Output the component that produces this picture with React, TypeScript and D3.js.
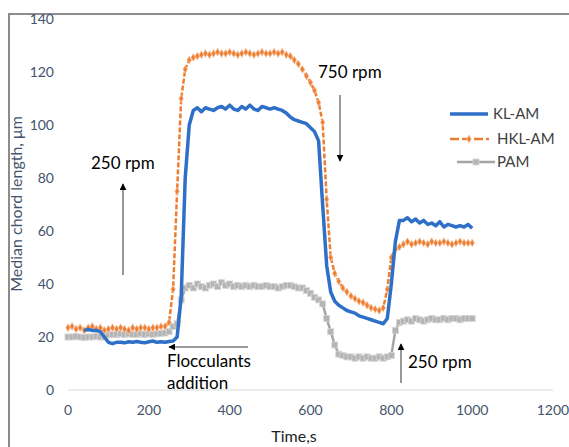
import React from "react";
import * as d3 from "d3";

const W = 569;
const H = 447;

const yTicks = [0, 20, 40, 60, 80, 100, 120, 140];
const xTicks = [0, 200, 400, 600, 800, 1000, 1200];

const hklTimes = d3.range(0, 1001, 10);
const hklValues = [
  23.5, 24, 23, 23.5, 22.5, 23.5, 24, 23, 23.5, 22.5, 23, 23.5, 23, 23.5, 23, 22.5, 23.5, 23, 23.5, 23.5, 23, 23.5, 23.5, 24, 24,
  25.5, 38, 75, 110, 121, 124.5, 125.5, 126,
  126.5, 127, 126.5, 127, 127.5, 127, 127, 127.5, 127, 126.5, 127, 127.5, 127, 126.5, 127, 127.5, 127, 127, 127.5, 127, 127.5,
  126.5, 126, 124.5, 123, 121, 118.5, 116, 113, 108.5, 101, 72, 50, 44, 41, 38.5, 37, 35.5, 34.5, 33.5, 33, 32, 31, 30.5, 30, 31, 38, 50, 53, 54, 55,
  56, 55, 55.5, 56, 55.5, 55, 56, 55.5, 55.5, 56, 55.5, 55, 55.5, 56, 55.5, 55.5, 55.5,
];

const klTimes = d3.range(40, 1001, 10);
const klValues = [
  22.5, 22.8, 22.5, 22.5, 22, 20, 18, 17.5,
  18, 18, 17.8, 18.2, 18, 18.3, 18, 17.8, 18.2, 18.5, 18, 18.2, 18, 18.3, 18.5,
  20, 35, 80, 100, 105.5, 106.5,
  105, 106.5, 106, 105.5, 106.5, 107, 106, 107.5, 106, 105.5, 107, 106, 107.5, 106, 105.5, 107, 106.5, 106, 106.5, 106,
  105.5, 104.5, 103, 102, 101.5, 101, 100.5, 99, 97.5, 94, 70, 47, 37, 33.5, 32, 31, 30, 29.5, 29, 28, 27.5, 27, 26.5, 26, 25.5, 25, 27, 40, 56, 64,
  64, 65, 63.5, 64.5, 63, 64, 62.5, 63, 62, 63.5, 61.5, 62.5, 62, 61.5, 62, 61.5, 62.5, 61,
];

const pamTimes = d3.range(0, 1001, 10);
const pamValues = [
  20, 20, 20.2, 20, 19.8, 20, 20, 20.2, 20, 20,
  20.8, 21, 21, 21.2, 21, 21.2, 21, 21, 21.2, 21, 21.2, 21, 21.2, 21.3, 21.5,
  22, 24, 25, 34, 38.5, 39.5,
  38.5, 40, 39, 38.5, 39.5, 40, 39, 40.5, 39.5, 40, 39, 39.5, 39, 39.5, 39, 39.5, 39, 39, 39.5, 39, 39, 38.5, 39, 39.5, 39.5, 39, 38.5,
  38.5, 37.5, 36.5, 35, 34, 32.5, 27, 22, 17, 13.5, 13,
  12.5, 12.5, 12, 12.5, 12, 12.5, 12, 12, 12.5, 12,
  12.5, 13, 22.5, 25.5, 26,
  26.5, 26, 27, 26.5, 26, 26.5, 27, 26.5, 26.5, 27, 26.5, 27, 27, 26.5, 27, 27, 27,
];

const seriesNames = ["KL-AM", "HKL-AM", "PAM"];

const zip = (t: number[], v: number[]) =>
  v.map((val, i) => ({ t: t[i], v: val })).filter((d) => d.t !== undefined);

const BLUE = "#2e6fc7";
const ORANGE = "#ed7d31";
const GRAY = "#a5a5a5";
const FONT = "Lato, 'Open Sans', sans-serif";

export default function App() {
  const x = d3.scaleLinear().domain([0, 1200]).range([68, 553]);
  const y = d3.scaleLinear().domain([0, 140]).range([390, 19]);
  const line = d3
    .line<{ t: number; v: number }>()
    .x((d) => x(d.t))
    .y((d) => y(d.v));

  const kl = zip(klTimes, klValues);
  const hkl = zip(hklTimes, hklValues);
  const pam = zip(pamTimes, pamValues);

  const diamond = d3.symbol().type(d3.symbolDiamond).size(18)() as string;

  return (
    <svg
      width={W}
      height={H}
      style={{ position: "absolute", left: 0, top: 0, background: "#fff", fontFamily: FONT }}
    >
      <defs>
        <marker id="ah" viewBox="0 0 10 10" refX="9" refY="5" markerWidth="7" markerHeight="7" orient="auto">
          <path d="M0,0 L10,5 L0,10 z" fill="#000" />
        </marker>
      </defs>
      <rect x={0} y={0} width={W} height={H} fill="#fff" />
      <path d={`M9,${H} V14 H${W}`} fill="none" stroke="#8c8c8c" strokeWidth={2} />

      <line x1={x(0)} x2={x(1200)} y1={y(0)} y2={y(0)} stroke="#d9d9d9" strokeWidth={1} />

      {yTicks.map((t) => (
        <text key={t} x={54} y={y(t) + 5} textAnchor="end" fontSize={14} fill="#44546a">
          {t}
        </text>
      ))}
      {xTicks.map((t) => (
        <text key={t} x={x(t)} y={415} textAnchor="middle" fontSize={14} fill="#44546a">
          {t}
        </text>
      ))}

      <text
        transform="translate(22,204) rotate(-90)"
        textAnchor="middle"
        fontSize={16}
        fill="#44546a"
      >
        Median chord length, μm
      </text>
      <text x={294} y={442} textAnchor="middle" fontSize={16} fill="#222">
        Time,s
      </text>

      {/* PAM */}
      <path d={line(pam) || ""} fill="none" stroke={GRAY} strokeWidth={2.5} />
      {pam.map((d, i) => (
        <rect key={i} x={x(d.t) - 3} y={y(d.v) - 3} width={6} height={6} fill="#b4b4b4" stroke="#d6d6d6" strokeWidth={0.8} />
      ))}

      {/* HKL-AM */}
      <path d={line(hkl) || ""} fill="none" stroke={ORANGE} strokeWidth={2.5} strokeDasharray="5 2" />
      {hkl.map((d, i) => (
        <path key={i} d={diamond} transform={`translate(${x(d.t)},${y(d.v)})`} fill={ORANGE} stroke="#f8cbad" strokeWidth={0.8} />
      ))}

      {/* KL-AM */}
      <path d={line(kl) || ""} fill="none" stroke={BLUE} strokeWidth={3.5} strokeLinejoin="round" />

      {/* legend */}
      <line x1={450} x2={488} y1={114} y2={114} stroke={BLUE} strokeWidth={3.5} />
      <text x={493} y={119} fontSize={15} fill="#404040">{seriesNames[0]}</text>
      <line x1={450} x2={489} y1={139} y2={139} stroke={ORANGE} strokeWidth={2.5} strokeDasharray="9 3" />
      <path d={diamond} transform="translate(469,139)" fill={ORANGE} stroke="#f8cbad" strokeWidth={0.8} />
      <text x={497} y={144} fontSize={15} fill="#404040">{seriesNames[1]}</text>
      <line x1={457} x2={495} y1={162} y2={162} stroke={GRAY} strokeWidth={2.5} />
      <rect x={473} y={159} width={6} height={6} fill="#b4b4b4" stroke="#d6d6d6" strokeWidth={0.8} />
      <text x={497} y={167} fontSize={15} fill="#404040">{seriesNames[2]}</text>

      {/* annotations */}
      <text x={91} y={169} fontSize={17} fill="#000">250 rpm</text>
      <line x1={123} x2={123} y1={275} y2={184} stroke="#333" strokeWidth={1} markerEnd="url(#ah)" />

      <text x={318} y={78} fontSize={17} fill="#000">750 rpm</text>
      <line x1={340} x2={340} y1={95} y2={161} stroke="#333" strokeWidth={1} markerEnd="url(#ah)" />

      <text x={167} y={367} fontSize={17} fill="#000">Flocculants</text>
      <text x={167} y={389} fontSize={17} fill="#000">addition</text>
      <line x1={248} x2={169} y1={347} y2={347} stroke="#333" strokeWidth={1} markerEnd="url(#ah)" />

      <text x={408} y={368} fontSize={17} fill="#000">250 rpm</text>
      <line x1={401} x2={401} y1={383} y2={344} stroke="#333" strokeWidth={1} markerEnd="url(#ah)" />
    </svg>
  );
}
